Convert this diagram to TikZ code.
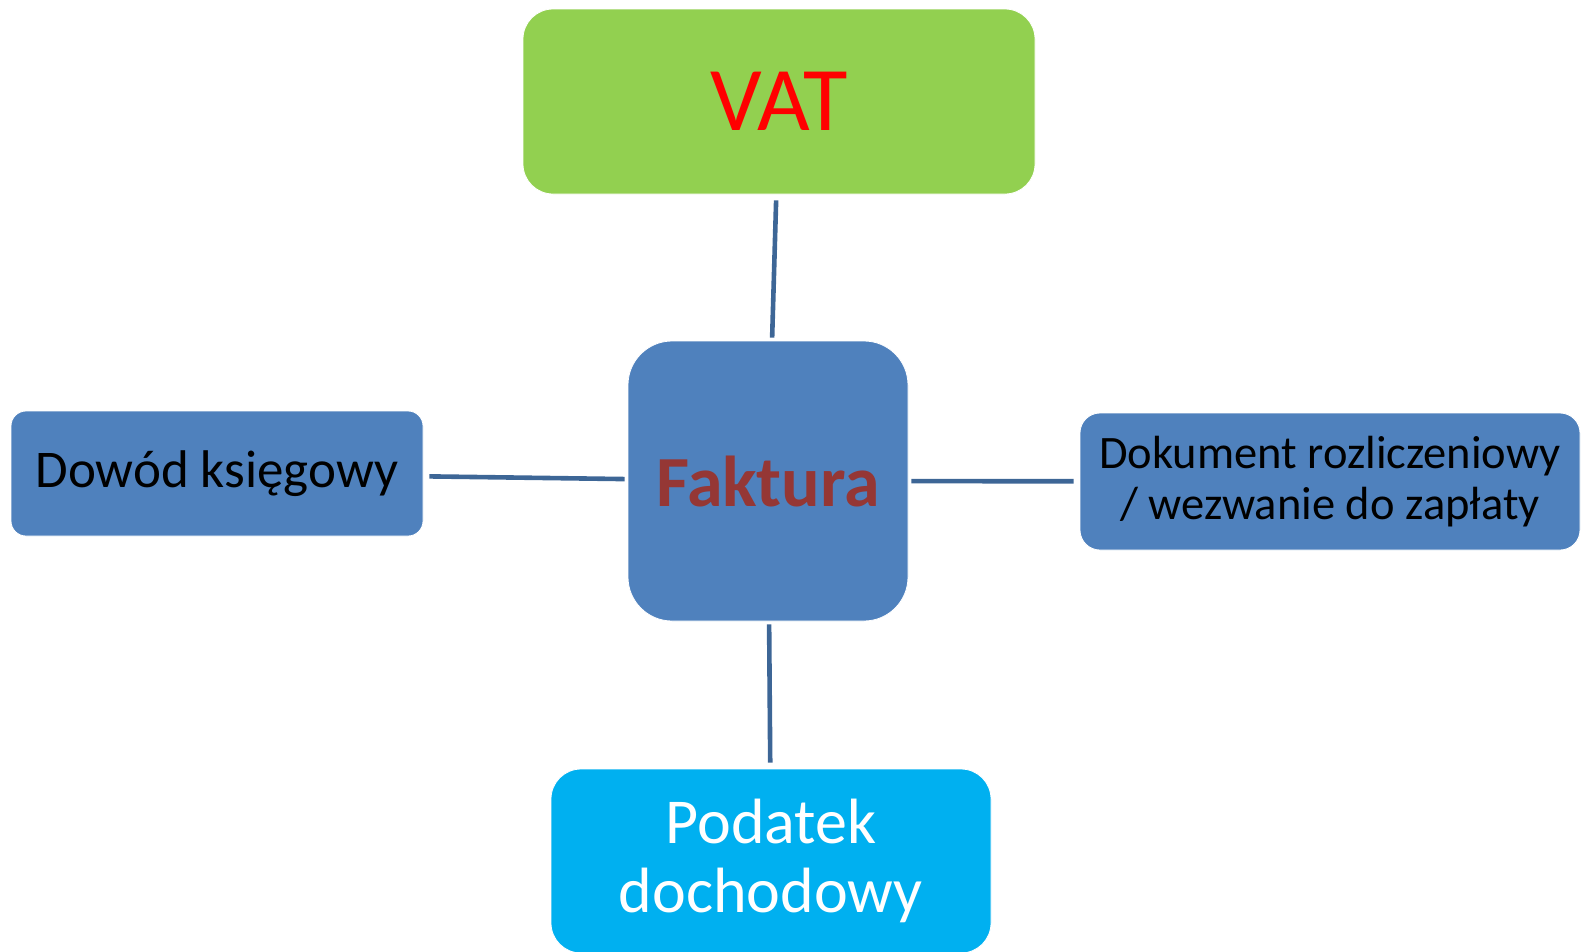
\documentclass[tikz,border=0pt]{standalone}
\usepackage{fontspec}
\setmainfont{Carlito}
\definecolor{vatgreen}{HTML}{92D050}
\definecolor{boxblue}{HTML}{4F81BD}
\definecolor{cyanbox}{HTML}{00B0F0}
\definecolor{faktred}{HTML}{953735}
\definecolor{linkblue}{HTML}{3D6696}
\begin{document}
\begin{tikzpicture}[x=1pt,y=-1pt,
  box/.style={rectangle, inner sep=0pt, align=center, draw=white, line width=0.8pt},
  link/.style={draw=linkblue, line width=4.6pt, shorten <=6pt, shorten >=3pt}]
\useasboundingbox (0,0) rectangle (1582,951);
\node[box, fill=vatgreen, rounded corners=30pt, minimum width=512pt, minimum height=185pt,
  font=\fontsize{91}{100}\selectfont, text=red] (vat) at (779,101.5) {VAT};
\node[box, fill=boxblue, rounded corners=44pt, minimum width=280pt, minimum height=280pt,
  font=\fontsize{72}{80}\selectfont\bfseries, text=faktred] (fak) at (768,481) {Faktura};
\node[box, fill=boxblue, rounded corners=15pt, minimum width=412pt, minimum height=125pt,
  font=\fontsize{53}{60}\selectfont] (dow) at (217,473.5) {Dowód księgowy};
\node[box, fill=boxblue, rounded corners=20pt, minimum width=500pt, minimum height=137pt,
  font=\fontsize{46.5}{51}\selectfont] (dok) at (1330,481.5) {Dokument rozliczeniowy\\/ wezwanie do zapłaty};
\node[box, fill=cyanbox, rounded corners=30pt, minimum width=440pt, minimum height=184pt,
  font=\fontsize{64}{69}\selectfont, text=white] (pod) at (771,861) {Podatek\\dochodowy};
\draw[link] (vat) -- (fak);
\draw[link] (dow) -- (fak);
\draw[link] (dok) -- (fak);
\draw[link] (pod) -- (fak);
\end{tikzpicture}
\end{document}
